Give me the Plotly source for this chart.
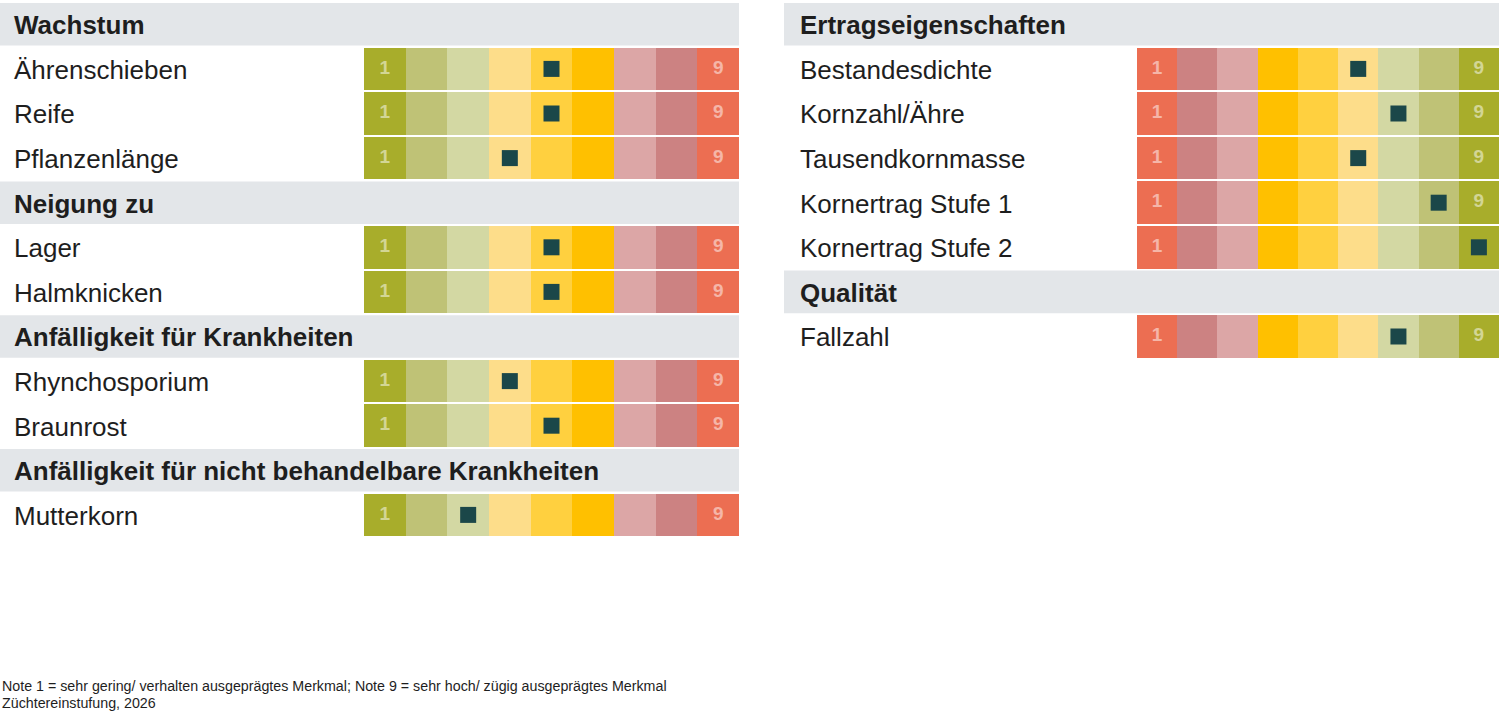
import plotly.graph_objects as go

# ---------------- data ----------------
left_labels = ["Wachstum", "Ährenschieben", "Reife", "Pflanzenlänge",
               "Neigung zu", "Lager", "Halmknicken",
               "Anfälligkeit für Krankheiten", "Rhynchosporium", "Braunrost",
               "Anfälligkeit für nicht behandelbare Krankheiten", "Mutterkorn"]
left_scores = [None, 5, 5, 4, None, 5, 5, None, 4, 5, None, 3]

right_labels = ["Ertragseigenschaften", "Bestandesdichte", "Kornzahl/Ähre",
                "Tausendkornmasse", "Kornertrag Stufe 1", "Kornertrag Stufe 2",
                "Qualität", "Fallzahl"]
right_scores = [None, 6, 7, 6, 8, 9, None, 7]

scale_notes = [1, 2, 3, 4, 5, 6, 7, 8, 9]
scale_colors = ["#A8AD2B", "#BFC276", "#D3D8A3", "#FDDD8A", "#FFD03F",
                "#FFC000", "#DCA6A6", "#CC8282", "#EC6E52"]
right_colors = scale_colors[::-1]

footnotes = ["Note 1 = sehr gering/ verhalten ausgeprägtes Merkmal; Note 9 = sehr hoch/ zügig ausgeprägtes Merkmal",
             "Züchtereinstufung, 2026"]

# ---------------- geometry ----------------
W, H = 1500, 719
pitch = 44.6
top = 2.0
y_range = [(H - top) / pitch - 0.5, -top / pitch - 0.5]

L_x0, L_c0, L_x1 = 0, 364, 739
R_x0, R_c0, R_x1 = 784, 1137, 1499
L_cw = (L_x1 - L_c0) / 9
R_cw = (R_x1 - R_c0) / 9
L_range = [0.5 - (L_c0 - L_x0) / L_cw, 9.5]
R_range = [0.5 - (R_c0 - R_x0) / R_cw, 9.5]

FONT = "Liberation Sans, Arial, sans-serif"
HEADER_BG = "#E3E6E9"
MARK = "#1B4749"
TEXT = "#1e1e1e"
gap = 1.0 / pitch

fig = go.Figure()
shapes = []
annotations = []


def panel(labels, scores, colors, xref, xr, cw, text_dx):
    rows = list(range(len(labels)))
    z = []
    for s in scores:
        z.append([None] * 9 if s is None else list(scale_notes))
    cs = [[(n - 1) / 8, c] for n, c in zip(scale_notes, colors)]
    fig.add_trace(go.Heatmap(
        z=z, x=scale_notes, y=rows, colorscale=cs, zmin=1, zmax=9,
        showscale=False, ygap=2, xgap=0, hoverinfo="skip",
        xaxis=xref, yaxis="y"))
    # header bands and labels
    for r, (lab, s) in enumerate(zip(labels, scores)):
        if s is None:
            shapes.append(dict(type="rect", xref=xref, yref="y",
                               x0=xr[0], x1=xr[1], y0=r - 0.5 + gap, y1=r + 0.5 - gap,
                               fillcolor=HEADER_BG, line_width=0, layer="below"))
        annotations.append(dict(
            text=("<b>%s</b>" % lab) if s is None else lab,
            xref=xref, yref="y", x=xr[0] + text_dx / cw, y=r + 0.02,
            xanchor="left", yanchor="middle", showarrow=False,
            font=dict(family=FONT, size=26, color=TEXT)))
    # 1 / 9 labels
    for note in (1, 9):
        ys = [r for r, s in enumerate(scores) if s is not None and s != note]
        fig.add_trace(go.Scatter(
            x=[note] * len(ys), y=ys, mode="text", text=[str(note)] * len(ys),
            textfont=dict(family=FONT, size=19, color="rgba(255,255,255,0.5)", weight="bold"),
            hoverinfo="skip", showlegend=False, xaxis=xref, yaxis="y"))
    # markers
    ys = [r for r, s in enumerate(scores) if s is not None]
    xs = [s for s in scores if s is not None]
    fig.add_trace(go.Scatter(
        x=xs, y=ys, mode="markers",
        marker=dict(symbol="square", size=16, color=MARK, line=dict(width=0)),
        hoverinfo="skip", showlegend=False, xaxis=xref, yaxis="y"))


panel(left_labels, left_scores, scale_colors, "x", L_range, L_cw, 12)
panel(right_labels, right_scores, right_colors, "x2", R_range, R_cw, 14)

annotations.append(dict(text=footnotes[0], xref="paper", yref="paper", x=0, y=1 - 686 / H,
                        xanchor="left", yanchor="middle", showarrow=False,
                        font=dict(family=FONT, size=14.25, color=TEXT)))
annotations.append(dict(text=footnotes[1], xref="paper", yref="paper", x=0, y=1 - 703 / H,
                        xanchor="left", yanchor="middle", showarrow=False,
                        font=dict(family=FONT, size=14.25, color=TEXT)))

axis_common = dict(showgrid=False, zeroline=False, showticklabels=False, ticks="",
                   showline=False, fixedrange=True)
fig.update_layout(
    width=W, height=H, margin=dict(l=0, r=0, t=0, b=0),
    paper_bgcolor="white", plot_bgcolor="white", showlegend=False,
    xaxis=dict(domain=[L_x0 / W, L_x1 / W], range=L_range, **axis_common),
    xaxis2=dict(domain=[R_x0 / W, R_x1 / W], range=R_range, anchor="y", **axis_common),
    yaxis=dict(domain=[0, 1], range=y_range, **axis_common),
    shapes=shapes, annotations=annotations,
)

fig.write_html("out.html")
